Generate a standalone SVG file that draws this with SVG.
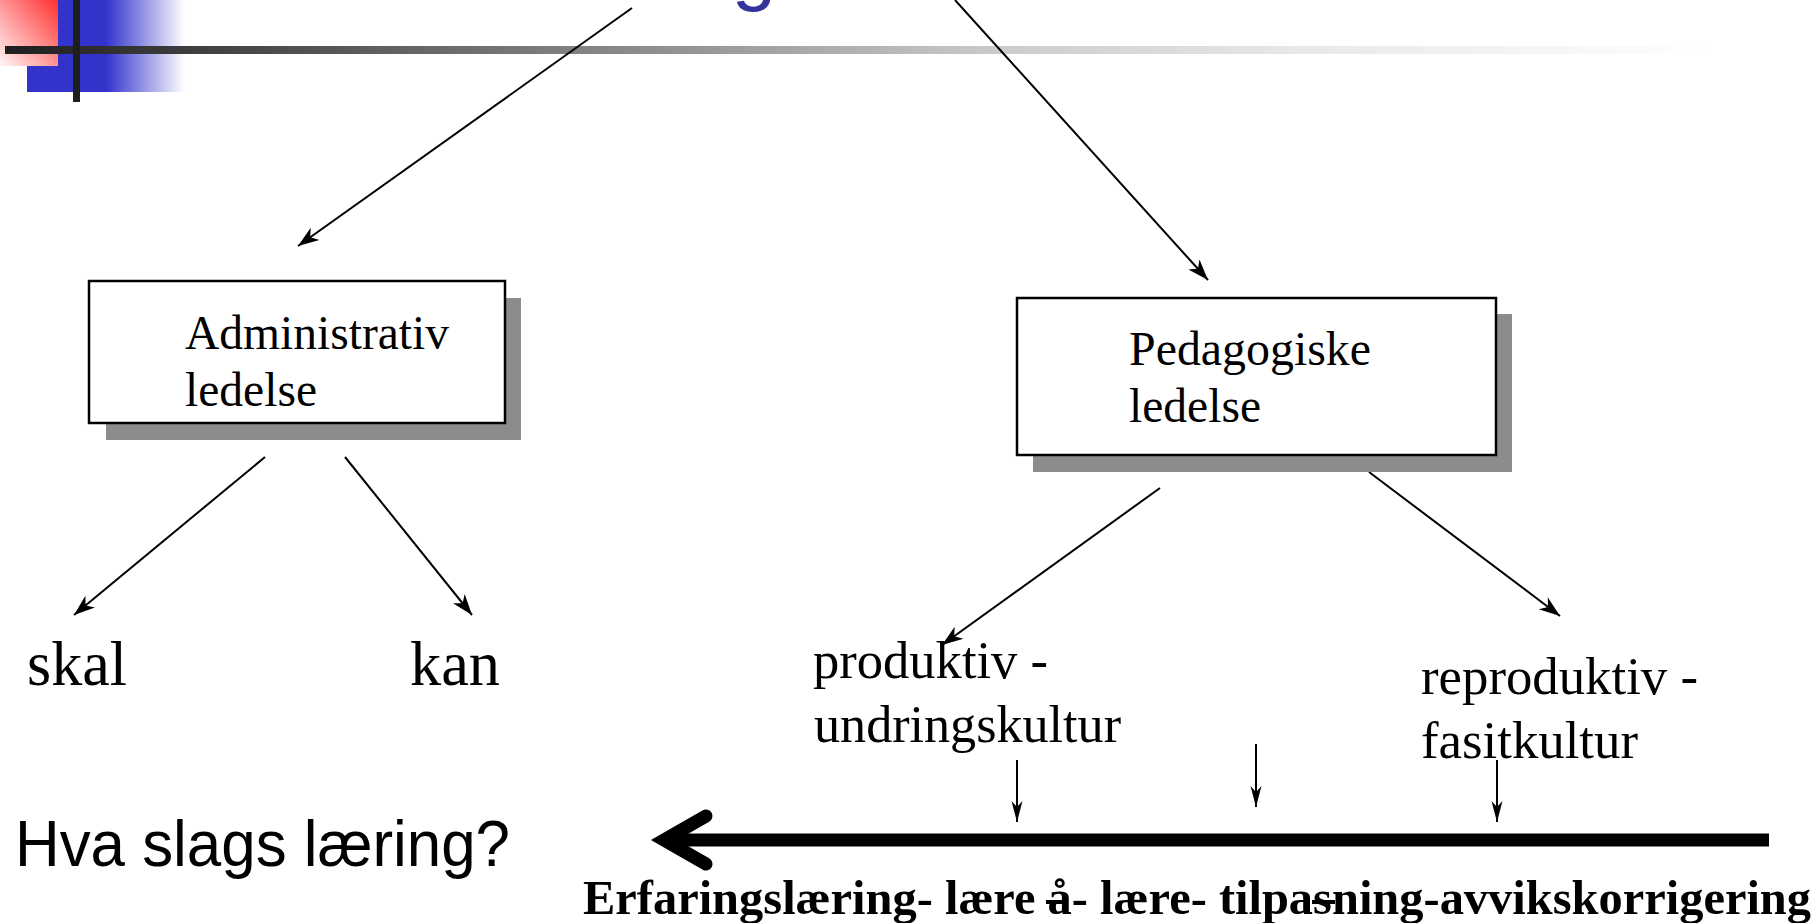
<svg xmlns="http://www.w3.org/2000/svg" width="1820" height="923" viewBox="0 0 1820 923">
  <style>
    .serif { font-family: "Liberation Serif", "Times New Roman", serif; fill: #000; }
    .sans { font-family: "Liberation Sans", Arial, sans-serif; fill: #000; }
    .box { fill: #fff; stroke: #000; stroke-width: 2.5; }
    .shadow { fill: #8c8c8c; }
    .conn { stroke: #000; stroke-width: 2; fill: none; }
  </style>
  <defs>
    <linearGradient id="redGrad" x1="1" y1="0" x2="0" y2="1">
      <stop offset="0" stop-color="#ff3030"/>
      <stop offset="1" stop-color="#fff6f6"/>
    </linearGradient>
    <linearGradient id="blueGrad" gradientUnits="userSpaceOnUse" x1="27" y1="0" x2="185" y2="0">
      <stop offset="0" stop-color="#3333cc"/>
      <stop offset="0.5" stop-color="#3333cc"/>
      <stop offset="1" stop-color="#ffffff"/>
    </linearGradient>
    <linearGradient id="barGrad" gradientUnits="userSpaceOnUse" x1="5" y1="0" x2="1710" y2="0">
      <stop offset="0" stop-color="#1e1e1e"/>
      <stop offset="0.587" stop-color="#cccccc"/>
      <stop offset="0.76" stop-color="#e8e8e8"/>
      <stop offset="1" stop-color="#ffffff"/>
    </linearGradient>
    <marker id="arr" viewBox="-22 -8 24 16" refX="0" refY="0" markerWidth="24" markerHeight="16" markerUnits="userSpaceOnUse" orient="auto">
      <path d="M0,0 L-21,-7.5 L-15,0 L-21,7.5 Z" fill="#000"/>
    </marker>
    <marker id="arrThin" viewBox="-22 -7 24 14" refX="0" refY="0" markerWidth="24" markerHeight="14" markerUnits="userSpaceOnUse" orient="auto">
      <path d="M0,0 L-21,-5.5 L-15,0 L-21,5.5 Z" fill="#000"/>
    </marker>
  </defs>

  <rect width="1820" height="923" fill="#fff"/>

  <g id="decoration">
    <rect x="27" y="0" width="158" height="92" fill="url(#blueGrad)"/>
    <rect x="0" y="0" width="58" height="66" fill="url(#redGrad)"/>
    <rect x="5" y="46" width="1705" height="8" fill="url(#barGrad)"/>
    <rect x="73" y="0" width="7" height="102" fill="#1e1e1e"/>
  </g>

  <g id="title-fragment">
    <text x="754" y="-5" font-size="80" text-anchor="middle" style="font-family:'Liberation Sans', Arial, sans-serif; fill:#333399;">g</text>
  </g>

  <g id="connectors">
    <line class="conn" x1="632" y1="8" x2="298" y2="246" marker-end="url(#arr)"/>
    <line class="conn" x1="955" y1="0" x2="1208" y2="280" marker-end="url(#arr)"/>
    <line class="conn" x1="265" y1="457" x2="74" y2="615" marker-end="url(#arr)"/>
    <line class="conn" x1="345" y1="457" x2="472" y2="615" marker-end="url(#arr)"/>
    <line class="conn" x1="1160" y1="488" x2="942" y2="645" marker-end="url(#arr)"/>
    <line class="conn" x1="1369" y1="472" x2="1560" y2="616" marker-end="url(#arr)"/>
    <line class="conn" x1="1017" y1="760" x2="1017" y2="822" marker-end="url(#arrThin)"/>
    <line class="conn" x1="1256" y1="744" x2="1256" y2="807" marker-end="url(#arrThin)"/>
    <line class="conn" x1="1497" y1="760" x2="1497" y2="822" marker-end="url(#arrThin)"/>
    <g id="big-arrow">
      <line x1="672" y1="840" x2="1769" y2="840" stroke="#000" stroke-width="13"/>
      <polyline points="706,816 664,840 706,864" fill="none" stroke="#000" stroke-width="13" stroke-linecap="round" stroke-linejoin="miter"/>
    </g>
  </g>

  <g id="node-administrativ">
    <rect class="shadow" x="106" y="298" width="415" height="142"/>
    <rect class="box" x="89" y="281" width="416" height="142"/>
    <text class="serif" font-size="48" x="185" y="349" textLength="264" lengthAdjust="spacingAndGlyphs">Administrativ</text>
    <text class="serif" font-size="48" x="185" y="406" textLength="132" lengthAdjust="spacingAndGlyphs">ledelse</text>
  </g>

  <g id="node-pedagogiske">
    <rect class="shadow" x="1033" y="314" width="479" height="158"/>
    <rect class="box" x="1017" y="298" width="479" height="157"/>
    <text class="serif" font-size="48" x="1129" y="365" textLength="242" lengthAdjust="spacingAndGlyphs">Pedagogiske</text>
    <text class="serif" font-size="48" x="1129" y="422" textLength="132" lengthAdjust="spacingAndGlyphs">ledelse</text>
  </g>

  <g id="node-skal">
    <text class="serif" font-size="63" x="27" y="685" textLength="100" lengthAdjust="spacingAndGlyphs">skal</text>
  </g>
  <g id="node-kan">
    <text class="serif" font-size="63" x="410" y="685" textLength="90" lengthAdjust="spacingAndGlyphs">kan</text>
  </g>

  <g id="node-produktiv">
    <text class="serif" font-size="52" x="813" y="678" textLength="235" lengthAdjust="spacingAndGlyphs">produktiv -</text>
    <text class="serif" font-size="52" x="814" y="742" textLength="307" lengthAdjust="spacingAndGlyphs">undringskultur</text>
  </g>

  <g id="node-reproduktiv">
    <text class="serif" font-size="52" x="1421" y="694" textLength="277" lengthAdjust="spacingAndGlyphs">reproduktiv -</text>
    <text class="serif" font-size="52" x="1421" y="758" textLength="217" lengthAdjust="spacingAndGlyphs">fasitkultur</text>
  </g>

  <g id="node-hva">
    <text class="sans" font-size="64" x="15" y="866" textLength="495" lengthAdjust="spacingAndGlyphs">Hva slags læring?</text>
  </g>

  <g id="node-scale-label">
    <text class="serif" font-size="48" font-weight="bold" x="583" y="914" textLength="1228" lengthAdjust="spacingAndGlyphs">Erfaringslæring- lære å- lære- tilpasning-avvikskorrigering</text>
    <line x1="1046" y1="902" x2="1068" y2="902" stroke="#000" stroke-width="4"/>
    <line x1="1312" y1="902" x2="1335" y2="902" stroke="#000" stroke-width="4"/>
  </g>
</svg>
